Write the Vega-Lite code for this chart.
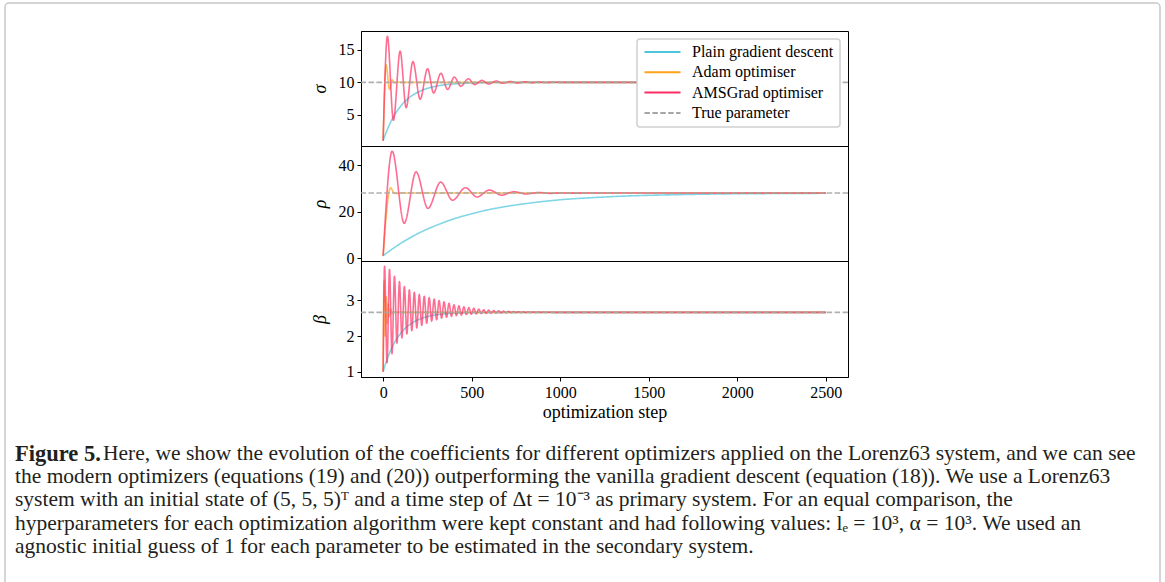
{
  "$schema": "https://vega.github.io/schema/vega-lite/v6.json",
  "autosize": {"type": "none"},
  "padding": {"left": 361, "top": 31, "right": 804, "bottom": 551},
  "background": "white",
  "spacing": 0,
  "bounds": "flush",
  "config": {
    "font": "Liberation Serif",
    "legend": {"labelFont": "Liberation Serif", "labelFontSize": 16, "labelColor": "#000", "strokeColor": "#d0d0d0", "strokeWidth": 1.5, "cornerRadius": 3, "padding": 6, "symbolType": "stroke", "symbolSize": 1300, "symbolStrokeWidth": 2, "symbolOpacity": 1, "clipHeight": 14, "rowPadding": 4.3, "labelOffset": 10}
  },
  "resolve": {"scale": {"color": "independent", "strokeDash": "independent", "y": "independent"}, "legend": {"color": "independent", "strokeDash": "independent"}},
  "datasets": {
    "curves": [
      {"panel": "sigma", "series": "Plain gradient descent", "step": 0, "value": 1},
      {"panel": "sigma", "series": "Plain gradient descent", "step": 20, "value": 2.5},
      {"panel": "sigma", "series": "Plain gradient descent", "step": 40, "value": 3.74},
      {"panel": "sigma", "series": "Plain gradient descent", "step": 60, "value": 4.78},
      {"panel": "sigma", "series": "Plain gradient descent", "step": 80, "value": 5.65},
      {"panel": "sigma", "series": "Plain gradient descent", "step": 100, "value": 6.37},
      {"panel": "sigma", "series": "Plain gradient descent", "step": 130, "value": 7.24},
      {"panel": "sigma", "series": "Plain gradient descent", "step": 160, "value": 7.9},
      {"panel": "sigma", "series": "Plain gradient descent", "step": 200, "value": 8.54},
      {"panel": "sigma", "series": "Plain gradient descent", "step": 250, "value": 9.07},
      {"panel": "sigma", "series": "Plain gradient descent", "step": 300, "value": 9.41},
      {"panel": "sigma", "series": "Plain gradient descent", "step": 350, "value": 9.63},
      {"panel": "sigma", "series": "Plain gradient descent", "step": 400, "value": 9.76},
      {"panel": "sigma", "series": "Plain gradient descent", "step": 500, "value": 9.9},
      {"panel": "sigma", "series": "Plain gradient descent", "step": 600, "value": 9.96},
      {"panel": "sigma", "series": "Plain gradient descent", "step": 800, "value": 9.99},
      {"panel": "sigma", "series": "Plain gradient descent", "step": 1000, "value": 10},
      {"panel": "sigma", "series": "Plain gradient descent", "step": 2500, "value": 10},
      {"panel": "sigma", "series": "Adam optimiser", "step": 0, "value": 1},
      {"panel": "sigma", "series": "Adam optimiser", "step": 17, "value": 12.7},
      {"panel": "sigma", "series": "Adam optimiser", "step": 36, "value": 8.9},
      {"panel": "sigma", "series": "Adam optimiser", "step": 51, "value": 10.4},
      {"panel": "sigma", "series": "Adam optimiser", "step": 65, "value": 9.9},
      {"panel": "sigma", "series": "Adam optimiser", "step": 80, "value": 10.05},
      {"panel": "sigma", "series": "Adam optimiser", "step": 100, "value": 10},
      {"panel": "sigma", "series": "Adam optimiser", "step": 2500, "value": 10},
      {"panel": "sigma", "series": "AMSGrad optimiser", "step": 0, "value": 1},
      {"panel": "sigma", "series": "AMSGrad optimiser", "step": 24, "value": 17.1},
      {"panel": "sigma", "series": "AMSGrad optimiser", "step": 58, "value": 4.15},
      {"panel": "sigma", "series": "AMSGrad optimiser", "step": 96, "value": 14.8},
      {"panel": "sigma", "series": "AMSGrad optimiser", "step": 130, "value": 6.1},
      {"panel": "sigma", "series": "AMSGrad optimiser", "step": 168, "value": 13.2},
      {"panel": "sigma", "series": "AMSGrad optimiser", "step": 209, "value": 7.4},
      {"panel": "sigma", "series": "AMSGrad optimiser", "step": 251, "value": 12.1},
      {"panel": "sigma", "series": "AMSGrad optimiser", "step": 285, "value": 8.35},
      {"panel": "sigma", "series": "AMSGrad optimiser", "step": 326, "value": 11.4},
      {"panel": "sigma", "series": "AMSGrad optimiser", "step": 364, "value": 8.9},
      {"panel": "sigma", "series": "AMSGrad optimiser", "step": 402, "value": 10.8},
      {"panel": "sigma", "series": "AMSGrad optimiser", "step": 439, "value": 9.4},
      {"panel": "sigma", "series": "AMSGrad optimiser", "step": 481, "value": 10.55},
      {"panel": "sigma", "series": "AMSGrad optimiser", "step": 517, "value": 9.65},
      {"panel": "sigma", "series": "AMSGrad optimiser", "step": 558, "value": 10.3},
      {"panel": "sigma", "series": "AMSGrad optimiser", "step": 596, "value": 9.75},
      {"panel": "sigma", "series": "AMSGrad optimiser", "step": 639, "value": 10.2},
      {"panel": "sigma", "series": "AMSGrad optimiser", "step": 677, "value": 9.85},
      {"panel": "sigma", "series": "AMSGrad optimiser", "step": 718, "value": 10.13},
      {"panel": "sigma", "series": "AMSGrad optimiser", "step": 760, "value": 9.9},
      {"panel": "sigma", "series": "AMSGrad optimiser", "step": 800, "value": 10.07},
      {"panel": "sigma", "series": "AMSGrad optimiser", "step": 840, "value": 9.95},
      {"panel": "sigma", "series": "AMSGrad optimiser", "step": 880, "value": 10.03},
      {"panel": "sigma", "series": "AMSGrad optimiser", "step": 920, "value": 9.98},
      {"panel": "sigma", "series": "AMSGrad optimiser", "step": 960, "value": 10.01},
      {"panel": "sigma", "series": "AMSGrad optimiser", "step": 1000, "value": 10},
      {"panel": "sigma", "series": "AMSGrad optimiser", "step": 2500, "value": 10},
      {"panel": "rho", "series": "Plain gradient descent", "step": 0, "value": 1},
      {"panel": "rho", "series": "Plain gradient descent", "step": 25, "value": 2.46},
      {"panel": "rho", "series": "Plain gradient descent", "step": 50, "value": 3.83},
      {"panel": "rho", "series": "Plain gradient descent", "step": 100, "value": 6.38},
      {"panel": "rho", "series": "Plain gradient descent", "step": 150, "value": 8.65},
      {"panel": "rho", "series": "Plain gradient descent", "step": 200, "value": 10.7},
      {"panel": "rho", "series": "Plain gradient descent", "step": 300, "value": 14.1},
      {"panel": "rho", "series": "Plain gradient descent", "step": 400, "value": 16.9},
      {"panel": "rho", "series": "Plain gradient descent", "step": 500, "value": 19.1},
      {"panel": "rho", "series": "Plain gradient descent", "step": 600, "value": 20.9},
      {"panel": "rho", "series": "Plain gradient descent", "step": 700, "value": 22.3},
      {"panel": "rho", "series": "Plain gradient descent", "step": 800, "value": 23.4},
      {"panel": "rho", "series": "Plain gradient descent", "step": 1000, "value": 25.1},
      {"panel": "rho", "series": "Plain gradient descent", "step": 1200, "value": 26.1},
      {"panel": "rho", "series": "Plain gradient descent", "step": 1400, "value": 26.8},
      {"panel": "rho", "series": "Plain gradient descent", "step": 1600, "value": 27.2},
      {"panel": "rho", "series": "Plain gradient descent", "step": 1800, "value": 27.5},
      {"panel": "rho", "series": "Plain gradient descent", "step": 2000, "value": 27.7},
      {"panel": "rho", "series": "Plain gradient descent", "step": 2250, "value": 27.8},
      {"panel": "rho", "series": "Plain gradient descent", "step": 2500, "value": 27.9},
      {"panel": "rho", "series": "Adam optimiser", "step": 0, "value": 1},
      {"panel": "rho", "series": "Adam optimiser", "step": 42, "value": 30.3},
      {"panel": "rho", "series": "Adam optimiser", "step": 61, "value": 28},
      {"panel": "rho", "series": "Adam optimiser", "step": 80, "value": 27.8},
      {"panel": "rho", "series": "Adam optimiser", "step": 100, "value": 28},
      {"panel": "rho", "series": "Adam optimiser", "step": 2500, "value": 28},
      {"panel": "rho", "series": "AMSGrad optimiser", "step": 0, "value": 1},
      {"panel": "rho", "series": "AMSGrad optimiser", "step": 51, "value": 46},
      {"panel": "rho", "series": "AMSGrad optimiser", "step": 119, "value": 15},
      {"panel": "rho", "series": "AMSGrad optimiser", "step": 186, "value": 37.1},
      {"panel": "rho", "series": "AMSGrad optimiser", "step": 253, "value": 21.4},
      {"panel": "rho", "series": "AMSGrad optimiser", "step": 325, "value": 32.7},
      {"panel": "rho", "series": "AMSGrad optimiser", "step": 392, "value": 24.9},
      {"panel": "rho", "series": "AMSGrad optimiser", "step": 465, "value": 30.3},
      {"panel": "rho", "series": "AMSGrad optimiser", "step": 530, "value": 26.3},
      {"panel": "rho", "series": "AMSGrad optimiser", "step": 600, "value": 29.3},
      {"panel": "rho", "series": "AMSGrad optimiser", "step": 669, "value": 27.1},
      {"panel": "rho", "series": "AMSGrad optimiser", "step": 738, "value": 28.6},
      {"panel": "rho", "series": "AMSGrad optimiser", "step": 807, "value": 27.6},
      {"panel": "rho", "series": "AMSGrad optimiser", "step": 877, "value": 28.25},
      {"panel": "rho", "series": "AMSGrad optimiser", "step": 945, "value": 27.85},
      {"panel": "rho", "series": "AMSGrad optimiser", "step": 1010, "value": 28.05},
      {"panel": "rho", "series": "AMSGrad optimiser", "step": 1080, "value": 27.97},
      {"panel": "rho", "series": "AMSGrad optimiser", "step": 1150, "value": 28},
      {"panel": "rho", "series": "AMSGrad optimiser", "step": 2500, "value": 28},
      {"panel": "beta", "series": "Plain gradient descent", "step": 0, "value": 1},
      {"panel": "beta", "series": "Plain gradient descent", "step": 10, "value": 1.167},
      {"panel": "beta", "series": "Plain gradient descent", "step": 20, "value": 1.317},
      {"panel": "beta", "series": "Plain gradient descent", "step": 40, "value": 1.573},
      {"panel": "beta", "series": "Plain gradient descent", "step": 60, "value": 1.78},
      {"panel": "beta", "series": "Plain gradient descent", "step": 80, "value": 1.949},
      {"panel": "beta", "series": "Plain gradient descent", "step": 100, "value": 2.085},
      {"panel": "beta", "series": "Plain gradient descent", "step": 130, "value": 2.243},
      {"panel": "beta", "series": "Plain gradient descent", "step": 160, "value": 2.357},
      {"panel": "beta", "series": "Plain gradient descent", "step": 200, "value": 2.464},
      {"panel": "beta", "series": "Plain gradient descent", "step": 250, "value": 2.547},
      {"panel": "beta", "series": "Plain gradient descent", "step": 300, "value": 2.596},
      {"panel": "beta", "series": "Plain gradient descent", "step": 350, "value": 2.625},
      {"panel": "beta", "series": "Plain gradient descent", "step": 400, "value": 2.642},
      {"panel": "beta", "series": "Plain gradient descent", "step": 500, "value": 2.658},
      {"panel": "beta", "series": "Plain gradient descent", "step": 600, "value": 2.664},
      {"panel": "beta", "series": "Plain gradient descent", "step": 800, "value": 2.667},
      {"panel": "beta", "series": "Plain gradient descent", "step": 2500, "value": 2.667},
      {"panel": "beta", "series": "Adam optimiser", "step": 0, "value": 1},
      {"panel": "beta", "series": "Adam optimiser", "step": 5, "value": 3.55},
      {"panel": "beta", "series": "Adam optimiser", "step": 11, "value": 2.0},
      {"panel": "beta", "series": "Adam optimiser", "step": 17, "value": 3.1},
      {"panel": "beta", "series": "Adam optimiser", "step": 23, "value": 2.35},
      {"panel": "beta", "series": "Adam optimiser", "step": 29, "value": 2.9},
      {"panel": "beta", "series": "Adam optimiser", "step": 35, "value": 2.55},
      {"panel": "beta", "series": "Adam optimiser", "step": 42, "value": 2.75},
      {"panel": "beta", "series": "Adam optimiser", "step": 50, "value": 2.64},
      {"panel": "beta", "series": "Adam optimiser", "step": 60, "value": 2.68},
      {"panel": "beta", "series": "Adam optimiser", "step": 75, "value": 2.667},
      {"panel": "beta", "series": "Adam optimiser", "step": 2500, "value": 2.667},
      {"panel": "beta", "series": "AMSGrad optimiser", "step": 0, "value": 1},
      {"panel": "beta", "series": "AMSGrad optimiser", "step": 8, "value": 3.96},
      {"panel": "beta", "series": "AMSGrad optimiser", "step": 22, "value": 1.25},
      {"panel": "beta", "series": "AMSGrad optimiser", "step": 36, "value": 3.87},
      {"panel": "beta", "series": "AMSGrad optimiser", "step": 50, "value": 1.5},
      {"panel": "beta", "series": "AMSGrad optimiser", "step": 64, "value": 3.68},
      {"panel": "beta", "series": "AMSGrad optimiser", "step": 78, "value": 1.8},
      {"panel": "beta", "series": "AMSGrad optimiser", "step": 92, "value": 3.53},
      {"panel": "beta", "series": "AMSGrad optimiser", "step": 106, "value": 1.95},
      {"panel": "beta", "series": "AMSGrad optimiser", "step": 120, "value": 3.39},
      {"panel": "beta", "series": "AMSGrad optimiser", "step": 134, "value": 2.06},
      {"panel": "beta", "series": "AMSGrad optimiser", "step": 148, "value": 3.3},
      {"panel": "beta", "series": "AMSGrad optimiser", "step": 162, "value": 2.15},
      {"panel": "beta", "series": "AMSGrad optimiser", "step": 176, "value": 3.23},
      {"panel": "beta", "series": "AMSGrad optimiser", "step": 190, "value": 2.23},
      {"panel": "beta", "series": "AMSGrad optimiser", "step": 204, "value": 3.17},
      {"panel": "beta", "series": "AMSGrad optimiser", "step": 218, "value": 2.3},
      {"panel": "beta", "series": "AMSGrad optimiser", "step": 232, "value": 3.12},
      {"panel": "beta", "series": "AMSGrad optimiser", "step": 246, "value": 2.36},
      {"panel": "beta", "series": "AMSGrad optimiser", "step": 260, "value": 3.08},
      {"panel": "beta", "series": "AMSGrad optimiser", "step": 274, "value": 2.42},
      {"panel": "beta", "series": "AMSGrad optimiser", "step": 288, "value": 3.04},
      {"panel": "beta", "series": "AMSGrad optimiser", "step": 302, "value": 2.46},
      {"panel": "beta", "series": "AMSGrad optimiser", "step": 316, "value": 3.0},
      {"panel": "beta", "series": "AMSGrad optimiser", "step": 330, "value": 2.5},
      {"panel": "beta", "series": "AMSGrad optimiser", "step": 344, "value": 2.96},
      {"panel": "beta", "series": "AMSGrad optimiser", "step": 358, "value": 2.53},
      {"panel": "beta", "series": "AMSGrad optimiser", "step": 372, "value": 2.92},
      {"panel": "beta", "series": "AMSGrad optimiser", "step": 386, "value": 2.555},
      {"panel": "beta", "series": "AMSGrad optimiser", "step": 400, "value": 2.88},
      {"panel": "beta", "series": "AMSGrad optimiser", "step": 414, "value": 2.575},
      {"panel": "beta", "series": "AMSGrad optimiser", "step": 428, "value": 2.85},
      {"panel": "beta", "series": "AMSGrad optimiser", "step": 442, "value": 2.59},
      {"panel": "beta", "series": "AMSGrad optimiser", "step": 456, "value": 2.82},
      {"panel": "beta", "series": "AMSGrad optimiser", "step": 470, "value": 2.605},
      {"panel": "beta", "series": "AMSGrad optimiser", "step": 484, "value": 2.8},
      {"panel": "beta", "series": "AMSGrad optimiser", "step": 498, "value": 2.615},
      {"panel": "beta", "series": "AMSGrad optimiser", "step": 512, "value": 2.78},
      {"panel": "beta", "series": "AMSGrad optimiser", "step": 526, "value": 2.625},
      {"panel": "beta", "series": "AMSGrad optimiser", "step": 540, "value": 2.76},
      {"panel": "beta", "series": "AMSGrad optimiser", "step": 554, "value": 2.633},
      {"panel": "beta", "series": "AMSGrad optimiser", "step": 568, "value": 2.74},
      {"panel": "beta", "series": "AMSGrad optimiser", "step": 582, "value": 2.64},
      {"panel": "beta", "series": "AMSGrad optimiser", "step": 596, "value": 2.73},
      {"panel": "beta", "series": "AMSGrad optimiser", "step": 610, "value": 2.645},
      {"panel": "beta", "series": "AMSGrad optimiser", "step": 624, "value": 2.72},
      {"panel": "beta", "series": "AMSGrad optimiser", "step": 638, "value": 2.65},
      {"panel": "beta", "series": "AMSGrad optimiser", "step": 652, "value": 2.71},
      {"panel": "beta", "series": "AMSGrad optimiser", "step": 666, "value": 2.654},
      {"panel": "beta", "series": "AMSGrad optimiser", "step": 680, "value": 2.7},
      {"panel": "beta", "series": "AMSGrad optimiser", "step": 694, "value": 2.657},
      {"panel": "beta", "series": "AMSGrad optimiser", "step": 708, "value": 2.695},
      {"panel": "beta", "series": "AMSGrad optimiser", "step": 722, "value": 2.66},
      {"panel": "beta", "series": "AMSGrad optimiser", "step": 736, "value": 2.69},
      {"panel": "beta", "series": "AMSGrad optimiser", "step": 750, "value": 2.662},
      {"panel": "beta", "series": "AMSGrad optimiser", "step": 764, "value": 2.685},
      {"panel": "beta", "series": "AMSGrad optimiser", "step": 778, "value": 2.663},
      {"panel": "beta", "series": "AMSGrad optimiser", "step": 792, "value": 2.681},
      {"panel": "beta", "series": "AMSGrad optimiser", "step": 806, "value": 2.664},
      {"panel": "beta", "series": "AMSGrad optimiser", "step": 820, "value": 2.678},
      {"panel": "beta", "series": "AMSGrad optimiser", "step": 834, "value": 2.665},
      {"panel": "beta", "series": "AMSGrad optimiser", "step": 848, "value": 2.676},
      {"panel": "beta", "series": "AMSGrad optimiser", "step": 862, "value": 2.666},
      {"panel": "beta", "series": "AMSGrad optimiser", "step": 876, "value": 2.674},
      {"panel": "beta", "series": "AMSGrad optimiser", "step": 890, "value": 2.666},
      {"panel": "beta", "series": "AMSGrad optimiser", "step": 904, "value": 2.672},
      {"panel": "beta", "series": "AMSGrad optimiser", "step": 918, "value": 2.667},
      {"panel": "beta", "series": "AMSGrad optimiser", "step": 932, "value": 2.67},
      {"panel": "beta", "series": "AMSGrad optimiser", "step": 960, "value": 2.667},
      {"panel": "beta", "series": "AMSGrad optimiser", "step": 2500, "value": 2.667}
    ],
    "truth": [
      {"panel": "sigma", "series": "True parameter", "value": 10},
      {"panel": "rho", "series": "True parameter", "value": 28},
      {"panel": "beta", "series": "True parameter", "value": 2.6667}
    ],
    "caption": [
      {"line": 1, "part": "head", "text": "Figure 5."},
      {"line": 1, "part": "body", "text": "Here, we show the evolution of the coefficients for different optimizers applied on the Lorenz63 system, and we can see"},
      {"line": 2, "part": "body", "text": "the modern optimizers (equations (19) and (20)) outperforming the vanilla gradient descent (equation (18)). We use a Lorenz63"},
      {"line": 3, "part": "body", "text": "system with an initial state of (5, 5, 5)ᵀ and a time step of Δt = 10⁻³ as primary system. For an equal comparison, the"},
      {"line": 4, "part": "body", "text": "hyperparameters for each optimization algorithm were kept constant and had following values: lₑ = 10³, α = 10³. We used an"},
      {"line": 5, "part": "body", "text": "agnostic initial guess of 1 for each parameter to be estimated in the secondary system."}
    ]
  },
  "vconcat": [
    {
      "width": 487, "height": 115,
      "view": {"stroke": "black", "strokeWidth": 1},
      "encoding": {
        "x": {"field": "step", "type": "quantitative", "scale": {"domain": [-125, 2625], "nice": false, "zero": false}, "axis": null},
        "y": {"field": "value", "type": "quantitative", "scale": {"domain": [0.195, 17.905], "nice": false, "zero": false}, "axis": {"values": [5, 10, 15], "title": "σ", "titleFont": "Liberation Serif", "titleFontSize": 18, "titleFontWeight": "normal", "titleFontStyle": "italic", "titleColor": "#000", "titlePadding": 9, "labelFont": "Liberation Serif", "labelFontSize": 16, "labelColor": "#000", "labelPadding": 3, "domainColor": "#000", "tickColor": "#000", "tickSize": 4, "grid": false}},
        "color": {"field": "series", "type": "nominal", "scale": {"domain": ["Plain gradient descent", "Adam optimiser", "AMSGrad optimiser", "True parameter"], "range": ["#4cc4dc", "#ffa31a", "#ff2d63", "#a6a6a6"]}, "legend": {"title": null, "orient": "top-right", "offset": 8, "fillColor": "white"}},
        "strokeDash": {"field": "series", "type": "nominal", "scale": {"domain": ["Plain gradient descent", "Adam optimiser", "AMSGrad optimiser", "True parameter"], "range": [[1, 0], [1, 0], [1, 0], [5.5, 2.4]]}, "legend": {"title": null, "orient": "top-right", "offset": 8, "fillColor": "white"}}
      },
      "layer": [
        {"data": {"name": "curves"}, "transform": [{"filter": "datum.panel === 'sigma' && datum.series === 'Plain gradient descent'"}], "mark": {"type": "line", "interpolate": "monotone", "strokeWidth": 1.6, "opacity": 0.7}},
        {"data": {"name": "curves"}, "transform": [{"filter": "datum.panel === 'sigma' && datum.series === 'Adam optimiser'"}], "mark": {"type": "line", "interpolate": "monotone", "strokeWidth": 1.6, "opacity": 0.7}},
        {"data": {"name": "curves"}, "transform": [{"filter": "datum.panel === 'sigma' && datum.series === 'AMSGrad optimiser'"}], "mark": {"type": "line", "interpolate": "monotone", "strokeWidth": 1.6, "opacity": 0.7}},
        {"data": {"name": "truth"}, "transform": [{"filter": "datum.panel === 'sigma'"}], "mark": {"type": "rule", "strokeWidth": 1.6, "opacity": 0.9}, "encoding": {"x": null}}
      ]
    },
    {
      "width": 487, "height": 115,
      "view": {"stroke": "black", "strokeWidth": 1},
      "encoding": {
        "x": {"field": "step", "type": "quantitative", "scale": {"domain": [-125, 2625], "nice": false, "zero": false}, "axis": null},
        "y": {"field": "value", "type": "quantitative", "scale": {"domain": [-1.25, 48.25], "nice": false, "zero": false}, "axis": {"values": [0, 20, 40], "title": "ρ", "titleFont": "Liberation Serif", "titleFontSize": 18, "titleFontWeight": "normal", "titleFontStyle": "italic", "titleColor": "#000", "titlePadding": 9, "labelFont": "Liberation Serif", "labelFontSize": 16, "labelColor": "#000", "labelPadding": 3, "domainColor": "#000", "tickColor": "#000", "tickSize": 4, "grid": false}},
        "color": {"field": "series", "type": "nominal", "scale": {"domain": ["Plain gradient descent", "Adam optimiser", "AMSGrad optimiser", "True parameter"], "range": ["#4cc4dc", "#ffa31a", "#ff2d63", "#a6a6a6"]}, "legend": null},
        "strokeDash": {"field": "series", "type": "nominal", "scale": {"domain": ["Plain gradient descent", "Adam optimiser", "AMSGrad optimiser", "True parameter"], "range": [[1, 0], [1, 0], [1, 0], [5.5, 2.4]]}, "legend": null}
      },
      "layer": [
        {"data": {"name": "curves"}, "transform": [{"filter": "datum.panel === 'rho' && datum.series === 'Plain gradient descent'"}], "mark": {"type": "line", "interpolate": "monotone", "strokeWidth": 1.6, "opacity": 0.7}},
        {"data": {"name": "curves"}, "transform": [{"filter": "datum.panel === 'rho' && datum.series === 'Adam optimiser'"}], "mark": {"type": "line", "interpolate": "monotone", "strokeWidth": 1.6, "opacity": 0.7}},
        {"data": {"name": "curves"}, "transform": [{"filter": "datum.panel === 'rho' && datum.series === 'AMSGrad optimiser'"}], "mark": {"type": "line", "interpolate": "monotone", "strokeWidth": 1.6, "opacity": 0.7}},
        {"data": {"name": "truth"}, "transform": [{"filter": "datum.panel === 'rho'"}], "mark": {"type": "rule", "strokeWidth": 1.6, "opacity": 0.9}, "encoding": {"x": null}}
      ]
    },
    {
      "width": 487, "height": 116,
      "view": {"stroke": "black", "strokeWidth": 1},
      "encoding": {
        "x": {"field": "step", "type": "quantitative", "scale": {"domain": [-125, 2625], "nice": false, "zero": false}, "axis": {"values": [0, 500, 1000, 1500, 2000, 2500], "format": "d", "title": "optimization step", "titleFont": "Liberation Serif", "titleFontSize": 18, "titleFontWeight": "normal", "titleColor": "#000", "titlePadding": 3, "labelFont": "Liberation Serif", "labelFontSize": 16, "labelColor": "#000", "labelPadding": 3, "domainColor": "#000", "tickColor": "#000", "tickSize": 4, "grid": false}},
        "y": {"field": "value", "type": "quantitative", "scale": {"domain": [0.852, 4.108], "nice": false, "zero": false}, "axis": {"values": [1, 2, 3], "title": "β", "titleFont": "Liberation Serif", "titleFontSize": 18, "titleFontWeight": "normal", "titleFontStyle": "italic", "titleColor": "#000", "titlePadding": 17, "labelFont": "Liberation Serif", "labelFontSize": 16, "labelColor": "#000", "labelPadding": 3, "domainColor": "#000", "tickColor": "#000", "tickSize": 4, "grid": false}},
        "color": {"field": "series", "type": "nominal", "scale": {"domain": ["Plain gradient descent", "Adam optimiser", "AMSGrad optimiser", "True parameter"], "range": ["#4cc4dc", "#ffa31a", "#ff2d63", "#a6a6a6"]}, "legend": null},
        "strokeDash": {"field": "series", "type": "nominal", "scale": {"domain": ["Plain gradient descent", "Adam optimiser", "AMSGrad optimiser", "True parameter"], "range": [[1, 0], [1, 0], [1, 0], [5.5, 2.4]]}, "legend": null}
      },
      "layer": [
        {"data": {"name": "curves"}, "transform": [{"filter": "datum.panel === 'beta' && datum.series === 'Plain gradient descent'"}], "mark": {"type": "line", "interpolate": "monotone", "strokeWidth": 1.6, "opacity": 0.7}},
        {"data": {"name": "curves"}, "transform": [{"filter": "datum.panel === 'beta' && datum.series === 'Adam optimiser'"}], "mark": {"type": "line", "interpolate": "monotone", "strokeWidth": 1.6, "opacity": 0.7}},
        {"data": {"name": "curves"}, "transform": [{"filter": "datum.panel === 'beta' && datum.series === 'AMSGrad optimiser'"}], "mark": {"type": "line", "interpolate": "monotone", "strokeWidth": 1.6, "opacity": 0.7}},
        {"data": {"name": "truth"}, "transform": [{"filter": "datum.panel === 'beta'"}], "mark": {"type": "rule", "strokeWidth": 1.6, "opacity": 0.9}, "encoding": {"x": null}}
      ]
    },
    {
      "width": 487, "height": 195,
      "view": {"stroke": null},
      "data": {"name": "caption"},
      "layer": [
        {"transform": [{"filter": "datum.part === 'head'"}], "mark": {"type": "text", "align": "left", "baseline": "middle", "font": "Liberation Serif", "fontSize": 22.5, "fontWeight": "bold", "color": "#231f20", "dx": -346},
         "encoding": {"x": {"datum": 0, "type": "quantitative", "scale": {"domain": [0, 1]}, "axis": null}, "y": {"field": "line", "type": "quantitative", "scale": {"domain": [-2.3, 6.07], "reverse": true, "nice": false, "zero": false}, "axis": null}, "text": {"field": "text"}}},
        {"transform": [{"filter": "datum.part === 'body' && datum.line === 1"}], "mark": {"type": "text", "align": "left", "baseline": "middle", "font": "Liberation Serif", "fontSize": 21.5, "color": "#231f20", "dx": -258},
         "encoding": {"x": {"datum": 0, "type": "quantitative", "scale": {"domain": [0, 1]}, "axis": null}, "y": {"field": "line", "type": "quantitative", "scale": {"domain": [-2.3, 6.07], "reverse": true, "nice": false, "zero": false}, "axis": null}, "text": {"field": "text"}}},
        {"transform": [{"filter": "datum.part === 'body' && datum.line > 1"}], "mark": {"type": "text", "align": "left", "baseline": "middle", "font": "Liberation Serif", "fontSize": 21.5, "color": "#231f20", "dx": -346},
         "encoding": {"x": {"datum": 0, "type": "quantitative", "scale": {"domain": [0, 1]}, "axis": null}, "y": {"field": "line", "type": "quantitative", "scale": {"domain": [-2.3, 6.07], "reverse": true, "nice": false, "zero": false}, "axis": null}, "text": {"field": "text"}}},
        {"transform": [{"filter": "datum.part === 'head'"}], "mark": {"type": "point", "opacity": 0, "filled": true},
         "encoding": {"x": {"datum": 0, "type": "quantitative", "scale": {"domain": [0, 1]}, "axis": null}, "y": {"field": "line", "type": "quantitative", "scale": {"domain": [-2.3, 6.07], "reverse": true, "nice": false, "zero": false}, "axis": null},
           "fill": {"field": "line", "type": "quantitative", "scale": {"domain": [0, 2], "range": ["#ffffff", "#ffffff"]},
             "legend": {"title": null, "orient": "none", "legendX": -356, "legendY": -28, "direction": "horizontal", "gradientLength": 1151, "gradientThickness": 616, "gradientOpacity": 0, "gradientStrokeWidth": 0, "gradientStrokeColor": "#ffffff", "values": [], "labelOpacity": 0, "labelFontSize": 1, "labelOffset": 0, "padding": 2, "fillColor": "transparent", "strokeColor": "#c8c8c8", "cornerRadius": 4}}}}
      ]
    }
  ]
}
